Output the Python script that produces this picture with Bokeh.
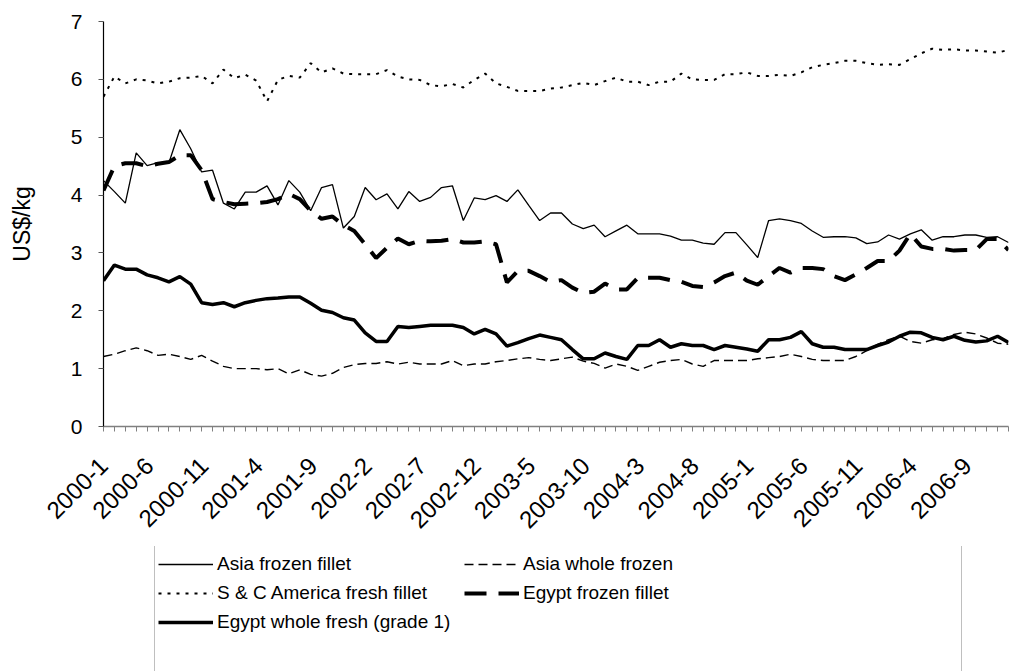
import math
from bokeh.plotting import figure
from bokeh.layouts import column
from bokeh.models import Range1d, FixedTicker, Legend, LegendItem
from bokeh.embed import file_html
from bokeh.resources import INLINE

# ---- data -------------------------------------------------------------
months = [f"{y}-{m}" for y in range(2000, 2007) for m in range(1, 13)]
month_idx = list(range(len(months)))

tick_labels = ["2000-1", "2000-6", "2000-11", "2001-4", "2001-9", "2002-2",
               "2002-7", "2002-12", "2003-5", "2003-10", "2004-3", "2004-8",
               "2005-1", "2005-6", "2005-11", "2006-4", "2006-9"]

asia_frozen_fillet = [
    4.25, 4.06, 3.86, 4.73, 4.51, 4.56, 4.56, 5.13, 4.80, 4.40, 4.43, 3.86,
    3.76, 4.05, 4.05, 4.16, 3.83, 4.25, 4.05, 3.73, 4.13, 4.18, 3.43, 3.63,
    4.13, 3.92, 4.02, 3.76, 4.06, 3.89, 3.96, 4.13, 4.16, 3.56, 3.95, 3.92,
    3.99, 3.89, 4.09, 3.82, 3.56, 3.69, 3.69, 3.50, 3.42, 3.48, 3.28, 3.38,
    3.48, 3.33, 3.33, 3.33, 3.29, 3.22, 3.22, 3.17, 3.15, 3.35, 3.35, 3.14,
    2.92, 3.56, 3.59, 3.56, 3.51, 3.38, 3.27, 3.28, 3.28, 3.26, 3.16, 3.19,
    3.31, 3.24, 3.33, 3.40, 3.22, 3.28, 3.28, 3.31, 3.31, 3.27, 3.28, 3.18]

asia_whole_frozen = [
    1.21, 1.25, 1.31, 1.36, 1.31, 1.23, 1.25, 1.21, 1.16, 1.23, 1.13, 1.04,
    1.00, 1.00, 1.00, 0.98, 1.00, 0.91, 0.98, 0.90, 0.87, 0.92, 1.02, 1.07,
    1.09, 1.09, 1.12, 1.08, 1.11, 1.08, 1.08, 1.08, 1.14, 1.05, 1.08, 1.08,
    1.12, 1.14, 1.17, 1.19, 1.16, 1.14, 1.17, 1.20, 1.13, 1.09, 1.01, 1.08,
    1.04, 0.97, 1.04, 1.11, 1.14, 1.16, 1.08, 1.04, 1.14, 1.14, 1.14, 1.14,
    1.17, 1.19, 1.21, 1.25, 1.21, 1.16, 1.14, 1.14, 1.14, 1.21, 1.31, 1.42,
    1.50, 1.56, 1.47, 1.44, 1.50, 1.52, 1.59, 1.63, 1.60, 1.53, 1.44, 1.42]

sc_america_fresh_fillet = [
    5.70, 6.05, 5.93, 6.00, 5.98, 5.93, 5.96, 6.02, 6.03, 6.06, 5.93, 6.17,
    6.02, 6.08, 5.98, 5.62, 5.99, 6.06, 6.03, 6.28, 6.12, 6.19, 6.10, 6.09,
    6.09, 6.09, 6.16, 6.05, 6.00, 5.99, 5.90, 5.88, 5.92, 5.86, 5.99, 6.10,
    5.93, 5.87, 5.80, 5.80, 5.80, 5.84, 5.86, 5.90, 5.94, 5.90, 5.97, 6.03,
    5.96, 5.96, 5.90, 5.96, 5.96, 6.10, 6.00, 5.99, 5.99, 6.09, 6.09, 6.12,
    6.06, 6.06, 6.08, 6.06, 6.12, 6.21, 6.25, 6.28, 6.32, 6.32, 6.28, 6.25,
    6.26, 6.25, 6.35, 6.45, 6.53, 6.51, 6.52, 6.50, 6.50, 6.48, 6.46, 6.51]

egypt_frozen_fillet = [
    4.08, 4.50, 4.55, 4.55, 4.50, 4.54, 4.57, 4.69, 4.69, 4.43, 3.93, 3.88,
    3.84, 3.85, 3.86, 3.88, 3.93, 4.02, 3.93, 3.73, 3.59, 3.63, 3.48, 3.38,
    3.15, 2.91, 3.09, 3.25, 3.15, 3.21, 3.20, 3.21, 3.24, 3.18, 3.18, 3.20,
    3.15, 2.49, 2.69, 2.69, 2.60, 2.50, 2.53, 2.40, 2.31, 2.33, 2.47, 2.37,
    2.37, 2.57, 2.57, 2.57, 2.53, 2.50, 2.43, 2.41, 2.49, 2.60, 2.66, 2.52,
    2.45, 2.60, 2.74, 2.66, 2.74, 2.74, 2.72, 2.60, 2.53, 2.63, 2.74, 2.86,
    2.86, 3.04, 3.33, 3.11, 3.07, 3.07, 3.04, 3.05, 3.05, 3.24, 3.24, 3.05]

egypt_whole_fresh = [
    2.52, 2.79, 2.72, 2.72, 2.62, 2.57, 2.50, 2.59, 2.46, 2.14, 2.11, 2.14,
    2.07, 2.14, 2.18, 2.21, 2.22, 2.24, 2.24, 2.13, 2.01, 1.97, 1.88, 1.84,
    1.62, 1.47, 1.47, 1.73, 1.71, 1.73, 1.75, 1.75, 1.75, 1.71, 1.60, 1.68,
    1.60, 1.39, 1.45, 1.52, 1.58, 1.54, 1.50, 1.33, 1.17, 1.17, 1.27, 1.21,
    1.16, 1.40, 1.40, 1.50, 1.37, 1.43, 1.40, 1.40, 1.33, 1.40, 1.37, 1.34,
    1.30, 1.50, 1.50, 1.54, 1.64, 1.43, 1.37, 1.37, 1.33, 1.33, 1.33, 1.40,
    1.46, 1.56, 1.63, 1.62, 1.54, 1.50, 1.56, 1.49, 1.46, 1.48, 1.56, 1.45]

series_names = ["Asia frozen fillet", "Asia whole frozen",
                "S & C America fresh fillet", "Egypt frozen fillet",
                "Egypt whole fresh (grade 1)"]

FONT = "Liberation Sans"

styles = [
    dict(line_width=1.3),
    dict(line_width=1.4, line_dash="9 5"),
    dict(line_width=2, line_dash="3 6"),
    dict(line_width=4, line_dash="22 12"),
    dict(line_width=3.5),
]
series_values = [asia_frozen_fillet, asia_whole_frozen, sc_america_fresh_fillet,
                 egypt_frozen_fillet, egypt_whole_fresh]

# ---- layout constants (pixels) ----------------------------------------
W = 1009
TOP_H, LEG_H = 546, 125
LEFT, RIGHT_BORDER = 103, 1
n = len(months)
LABEL_SHIFT = 0.8   # rotated month labels end slightly left of their tick

# ---- main chart -------------------------------------------------------
fig = figure(width=W, height=TOP_H, output_backend="svg", toolbar_location=None,
             x_range=Range1d(0, n - 1), y_range=Range1d(0, 7),
             min_border_left=LEFT, min_border_right=RIGHT_BORDER,
             min_border_top=21, min_border_bottom=TOP_H - 426)
fig.outline_line_color = None
fig.xgrid.visible = False
fig.ygrid.visible = False

for vals, st in zip(series_values, styles):
    fig.line(month_idx, vals, line_color="black", **st)

label_pos = list(range(0, n, 5))
# the first label cannot go left of the axis start
label_ticks = [max(0, pos - LABEL_SHIFT) for pos in label_pos]

# x axis: tick marks at every month (minor ticks), rotated labels every 5th
xa = fig.xaxis[0]
xa.ticker = FixedTicker(ticks=label_ticks, minor_ticks=month_idx)
xa.major_label_overrides = {t: lab for t, lab in zip(label_ticks, tick_labels)}
xa.major_label_orientation = math.pi / 4
xa.major_tick_out = 0
xa.major_tick_in = 0
xa.major_tick_line_color = None
xa.minor_tick_out = 5
xa.minor_tick_in = 0
xa.minor_tick_line_color = "#808080"
xa.axis_line_color = "#808080"
xa.axis_line_width = 1.5
xa.major_label_text_font = FONT
xa.major_label_text_font_size = "24px"
xa.major_label_text_color = "black"
xa.major_label_standoff = 30

# y axis
ya = fig.yaxis[0]
ya.ticker = FixedTicker(ticks=list(range(8)))
ya.major_tick_out = 5
ya.major_tick_in = 0
ya.axis_line_color = "black"
ya.axis_line_width = 1.2
ya.major_tick_line_color = "#555555"
ya.major_label_text_font = FONT
ya.major_label_text_font_size = "21px"
ya.major_label_text_color = "black"
ya.major_label_standoff = 16
ya.axis_label = "US$/kg"
ya.axis_label_text_font = FONT
ya.axis_label_text_font_size = "23px"
ya.axis_label_text_font_style = "normal"
ya.axis_label_text_color = "black"
ya.axis_label_standoff = 33

# ---- legend panel (below the chart) -----------------------------------
leg_fig = figure(width=W, height=LEG_H, output_backend="svg",
                 toolbar_location=None, x_axis_type=None, y_axis_type=None,
                 x_range=Range1d(0, n - 1), y_range=Range1d(-20, -10),
                 min_border_left=LEFT, min_border_right=RIGHT_BORDER,
                 min_border_top=0, min_border_bottom=0)
leg_fig.outline_line_color = None
leg_fig.xgrid.visible = False
leg_fig.ygrid.visible = False

# legend keys: the same series, drawn in this panel outside its visible range
proxies = [leg_fig.line(month_idx, vals, line_color="black", **st)
           for vals, st in zip(series_values, styles)]

# outer frame of the legend (one blank entry whose key is invisible)
r_box = leg_fig.line(month_idx, asia_frozen_fillet, line_alpha=0)
box = Legend(items=[LegendItem(label=" ", renderers=[r_box])],
             location=(154 - LEFT, -6), padding=0, margin=0, spacing=0,
             glyph_width=806, glyph_height=130, label_standoff=0,
             label_width=0, label_height=0, label_text_font_size="1px",
             border_line_color="#808080", border_line_width=1.5,
             background_fill_color="white", background_fill_alpha=1)
leg_fig.add_layout(box, "center")

order = [0, 2, 4, 1, 3]   # column-major fill: left column, then right column
legend = Legend(items=[LegendItem(label=series_names[k], renderers=[proxies[k]])
                       for k in order],
                ncols=2, location=(158 - LEFT, LEG_H - 89), padding=2, margin=0,
                spacing=3, glyph_width=55, glyph_height=26, label_height=26,
                label_width=244, label_standoff=4, label_text_font=FONT,
                label_text_font_size="19px", label_text_color="black",
                border_line_color=None, background_fill_alpha=0)
leg_fig.add_layout(legend, "center")

p = column(fig, leg_fig, spacing=0)

open("out.html", "w").write(file_html(p, INLINE))
